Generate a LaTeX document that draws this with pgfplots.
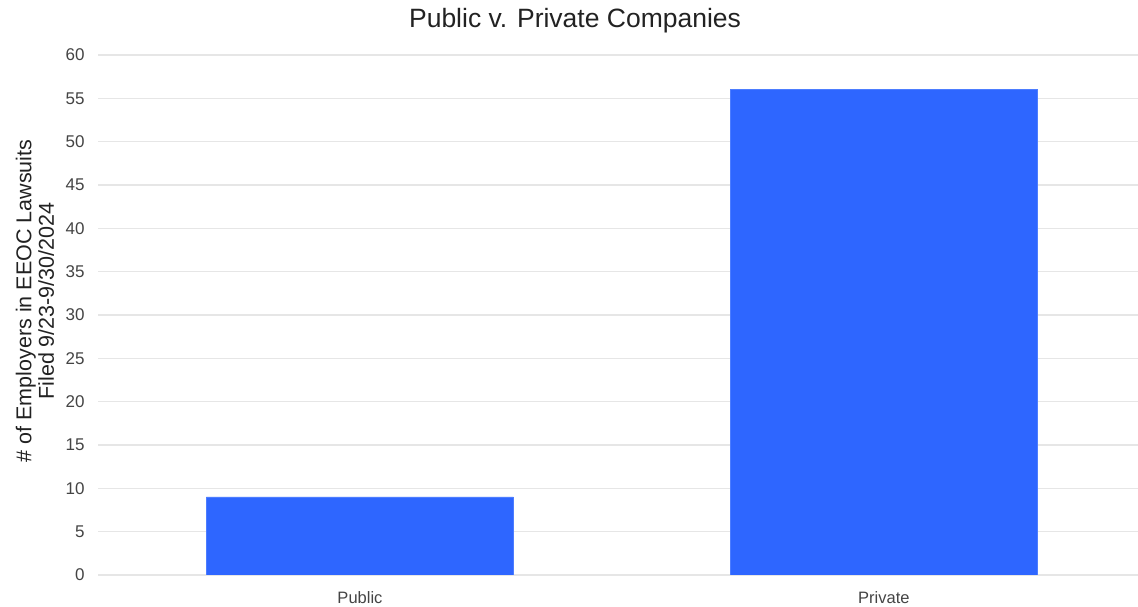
\documentclass[border=0pt]{standalone}
\usepackage{pgfplots}
\pgfplotsset{compat=1.18}
\usepackage{fontspec}
\setmainfont{Liberation Sans}
\definecolor{barblue}{HTML}{2E66FF}
\definecolor{gridgray}{HTML}{E6E6E6}
\definecolor{ticktext}{HTML}{444444}
\definecolor{titletext}{HTML}{222222}
\begin{document}
\begin{tikzpicture}[x=1pt,y=1pt]
\useasboundingbox (0,0) rectangle (1138,607);
\begin{axis}[
  at={(98pt,32pt)}, anchor=south west,
  scale only axis, width=1040pt, height=520pt,
  xmin=-0.5, xmax=1.485, ymin=0, ymax=60,
  ytick={0,5,...,60}, xtick={0,1}, xticklabels={Public,Private},
  /pgf/number format/assume math mode=true,
  axis line style={draw=none}, major tick length=0pt,
  ymajorgrids, grid style={draw=gridgray, line width=1.3pt},
  ybar, bar width=307pt,
  tick label style={text=ticktext},
  yticklabel style={font=\fontsize{17}{18}\selectfont, xshift=-10pt},
  xticklabel style={font=\fontsize{16.5}{18}\selectfont, yshift=-13pt},
  title={Public v. Private Companies},
  title style={at={(axis description cs:0.4587,1)}, anchor=center, yshift=28pt,
    font=\fontsize{26.5}{28}\selectfont, text=titletext},
  ylabel={\# of Employers in EEOC Lawsuits\\Filed 9/23-9/30/2024},
  ylabel style={at={(axis description cs:-0.0606,0.527)}, anchor=center, align=center,
    font=\fontsize{21.5}{22.5}\selectfont, text=titletext},
]
\addplot[fill=barblue, draw=barblue!85!white, line width=0.6pt] coordinates {(0,9) (1,56)};
\end{axis}
\end{tikzpicture}
\end{document}
